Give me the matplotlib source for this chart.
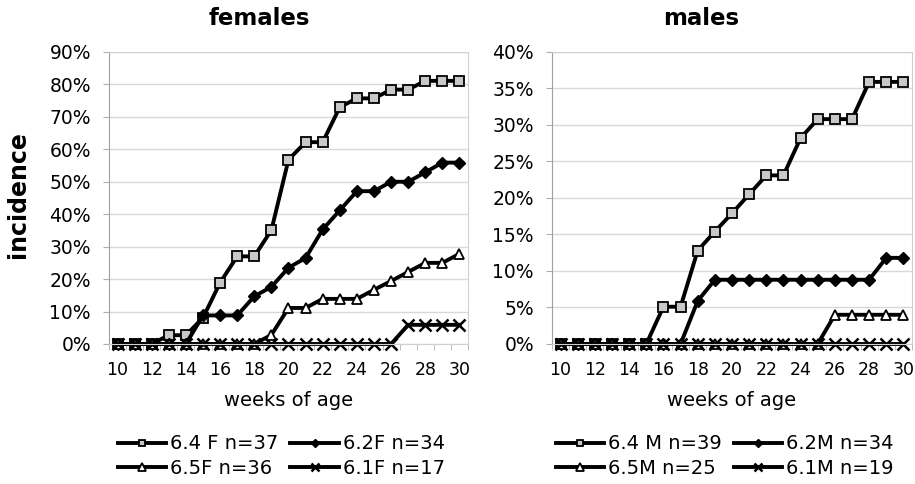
import matplotlib
matplotlib.use('Agg')
import matplotlib.pyplot as plt
from matplotlib.ticker import FuncFormatter

weeks = list(range(10, 31))

# females, fraction affected
f_64 = [0, 0, 0, 0.027, 0.027, 0.081, 0.189, 0.270, 0.270, 0.351, 0.568,
        0.622, 0.622, 0.730, 0.757, 0.757, 0.784, 0.784, 0.811, 0.811, 0.811]
f_62 = [0, 0, 0, 0, 0, 0.088, 0.088, 0.088, 0.147, 0.176, 0.235,
        0.265, 0.353, 0.412, 0.471, 0.471, 0.500, 0.500, 0.529, 0.559, 0.559]
f_65 = [0, 0, 0, 0, 0, 0, 0, 0, 0, 0.028, 0.111,
        0.111, 0.139, 0.139, 0.139, 0.167, 0.194, 0.222, 0.250, 0.250, 0.278]
f_61 = [0] * 17 + [0.059, 0.059, 0.059, 0.059]

# males
m_64 = [0, 0, 0, 0, 0, 0, 0.051, 0.051, 0.128, 0.154, 0.179,
        0.205, 0.231, 0.231, 0.282, 0.308, 0.308, 0.308, 0.359, 0.359, 0.359]
m_62 = [0] * 8 + [0.059] + [0.088] * 10 + [0.118, 0.118]
m_65 = [0] * 16 + [0.04] * 5
m_61 = [0] * 21

f_labels = ['6.4 F n=37', '6.2F n=34', '6.5F n=36', '6.1F n=17']
m_labels = ['6.4 M n=39', '6.2M n=34', '6.5M n=25', '6.1M n=19']

plt.rcParams['font.family'] = 'DejaVu Sans'

styles = [
    dict(marker='s', markerfacecolor='#c8c8c8', markeredgecolor='black', markersize=7, markeredgewidth=1.3),
    dict(marker='D', markerfacecolor='black', markeredgecolor='black', markersize=6),
    dict(marker='^', markerfacecolor='white', markeredgecolor='black', markersize=7.5, markeredgewidth=1.3),
    dict(marker='x', markeredgecolor='black', markersize=8, markeredgewidth=1.8),
]


def panel(ax, series, labels, title, title_x, ymax, ystep):
    lines = []
    for vals, lab, st in zip(series, labels, styles):
        ln, = ax.plot(weeks, vals, color='black', linewidth=2.8, label=lab, clip_on=False, **st)
        lines.append(ln)
    ax.set_xlim(9.5, 30.5)
    ax.set_ylim(0, ymax)
    ax.set_yticks([i * ystep for i in range(int(round(ymax / ystep)) + 1)])
    ax.yaxis.set_major_formatter(FuncFormatter(lambda v, p: '%d%%' % round(v * 100)))
    ax.set_xticks(range(10, 31, 2))
    ax.set_xticks([w + 0.5 for w in range(9, 31)], minor=True)
    ax.tick_params(axis='x', which='major', length=0, labelsize=12.5, pad=12)
    ax.tick_params(axis='x', which='minor', length=4, color='#b0b0b0')
    ax.tick_params(axis='y', length=4, color='#b0b0b0', labelsize=13.5, pad=9)
    ax.grid(axis='y', color='#d9d9d9', linewidth=1)
    ax.set_axisbelow(True)
    for s in ax.spines.values():
        s.set_color('#d0d0d0')
    ax.spines['left'].set_color('#a0a0a0')
    ax.text(title_x, 1.116, title, transform=ax.transAxes, ha='center', va='center',
            fontsize=16.5, fontweight='bold')
    ax.text(0.5, -0.195, 'weeks of age', transform=ax.transAxes, ha='center', va='center',
            fontsize=14)
    # rows: 6.4 / 6.2 on top, 6.5 / 6.1 below (legend fills by column)
    order = [0, 2, 1, 3]
    ax.legend([lines[i] for i in order], [labels[i] for i in order],
              loc='upper center', bbox_to_anchor=(0.48, -0.31), ncol=2, frameon=False,
              fontsize=14, handlelength=2.5, handletextpad=0.2, columnspacing=0.6,
              labelspacing=0.28, borderaxespad=0, borderpad=0, markerscale=0.7)


fig = plt.figure(figsize=(9.15, 4.84), dpi=100)
ax1 = fig.add_axes([0.1191, 0.2893, 0.3924, 0.6033])
ax2 = fig.add_axes([0.6033, 0.2893, 0.3934, 0.6033])

panel(ax1, [f_64, f_62, f_65, f_61], f_labels, 'females', 0.418, 0.9, 0.1)
panel(ax2, [m_64, m_62, m_65, m_61], m_labels, 'males', 0.414, 0.4, 0.05)
fig.text(18 / 915, 0.597, 'incidence', rotation=90, ha='center', va='center',
         fontsize=17, fontweight='bold')

fig.savefig('out.png', dpi=100)
